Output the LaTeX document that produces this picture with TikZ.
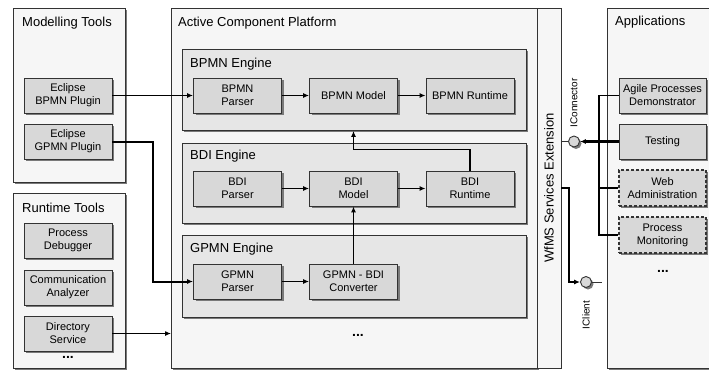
\documentclass[tikz,border=0pt]{standalone}
\usepackage{fontspec}
\setmainfont{Liberation Sans}
\usetikzlibrary{arrows.meta,shadows}
\definecolor{outerfill}{HTML}{F6F6F6}
\definecolor{engfill}{HTML}{E6E6E6}
\definecolor{boxfill}{HTML}{D8D8D8}
\definecolor{edge}{HTML}{333333}
\definecolor{shade}{HTML}{7A7A7A}
\tikzset{
  shad/.style={drop shadow={shadow xshift=2pt,shadow yshift=-2pt,fill=shade,opacity=1}},
  outerbox/.style={draw=edge,line width=0.9pt,fill=outerfill,shad,anchor=north west,inner sep=0pt},
  engbox/.style={draw=edge,line width=0.9pt,fill=engfill,shad,anchor=north west,inner sep=0pt},
  stripbox/.style={draw=edge,line width=0.9pt,fill=outerfill,anchor=north west,inner sep=0pt},
  comp/.style={draw=edge,line width=0.9pt,fill=boxfill,shad,minimum width=88pt,minimum height=35pt,
    align=center,font=\fontsize{11}{13}\selectfont,inner sep=1pt},
  dcomp/.style={comp,dashed,dash pattern=on 3pt off 2pt,line width=1.2pt},
  title/.style={anchor=base west,font=\fontsize{13}{15}\selectfont,inner sep=0pt},
  dots/.style={font=\fontsize{14}{14}\selectfont\bfseries,inner sep=0pt},
  arr/.style={-{Latex[length=6pt,width=5pt]},line width=1.1pt,draw=black},
  tarr/.style={arr,line width=2pt},
  iface/.style={circle,draw=edge,fill=boxfill,line width=0.9pt,minimum size=11pt,inner sep=0pt,shad},
  lbl/.style={rotate=90,font=\fontsize{10}{12}\selectfont,inner sep=0pt},
}
\begin{document}
\begin{tikzpicture}[x=1pt,y=-1pt]
\useasboundingbox (0,0) rectangle (709,370);
% outer containers
\node[outerbox,minimum width=112pt,minimum height=174pt] (mt) at (13,8) {};
\node[title] (mtt) at (22,26) {Modelling Tools};
\node[outerbox,minimum width=112pt,minimum height=175pt] (rt) at (13,193) {};
\node[title] (rtt) at (22,212) {Runtime Tools};
\node[outerbox,minimum width=366pt,minimum height=360pt] (acp) at (171,8) {};
\node[title] (acpt) at (178,26) {Active Component Platform};
\node[stripbox,minimum width=24pt,minimum height=360pt] (wfms) at (537,8) {};
\node[rotate=90,font=\fontsize{13}{15}\selectfont,inner sep=0pt] (wfmst) at (549,188) {WfMS Services Extension};
\node[outerbox,minimum width=108pt,minimum height=360pt] (apps) at (607,8) {};
\node[title] (appst) at (615,25) {Applications};
% engines
\node[engbox,minimum width=344pt,minimum height=81pt] (bpe) at (182,49) {};
\node[title] (bpet) at (190,67) {BPMN Engine};
\node[engbox,minimum width=344pt,minimum height=80pt] (bde) at (182,143) {};
\node[title] (bdet) at (190,159) {BDI Engine};
\node[engbox,minimum width=344pt,minimum height=82pt] (gpe) at (182,235) {};
\node[title] (gpet) at (190,252) {GPMN Engine};
% tools
\node[comp] (epl) at (68,95.5) {Eclipse\\BPMN Plugin};
\node[comp] (gpl) at (68,141.5) {Eclipse\\GPMN Plugin};
\node[comp] (pdb) at (68,240.5) {Process\\Debugger};
\node[comp] (cma) at (68,287.5) {Communication\\Analyzer};
\node[comp] (dsv) at (68,333.5) {Directory\\Service};
\node[dots] (rtdots) at (68,357) {...};
% engine components
\node[comp] (bpp) at (237.5,95.5) {BPMN\\Parser};
\node[comp] (bpm) at (353.5,95.5) {BPMN Model};
\node[comp] (bpr) at (470,95.5) {BPMN Runtime};
\node[comp] (bdp) at (237.5,188.5) {BDI\\Parser};
\node[comp] (bdm) at (353.5,188.5) {BDI\\Model};
\node[comp] (bdr) at (470,188.5) {BDI\\Runtime};
\node[comp] (gpp) at (237.5,281.5) {GPMN\\Parser};
\node[comp] (cnv) at (353.5,281.5) {GPMN - BDI\\Converter};
\node[dots] (acpdots) at (358,335) {...};
% applications
\node[comp,minimum width=87pt] (agl) at (662.5,95.5) {Agile Processes\\Demonstrator};
\node[comp,minimum width=87pt] (tst) at (662.5,141.5) {Testing};
\node[dcomp,minimum width=87pt,minimum height=36pt] (web) at (662.5,188) {Web\\Administration};
\node[dcomp,minimum width=87pt,minimum height=36pt] (mon) at (662.5,235) {Process\\Monitoring};
\node[dots] (appdots) at (663,271) {...};
% interfaces
\node[iface] (icon) at (574,141.5) {};
\node[lbl] (iconl) at (574,103) {IConnector};
\node[iface] (icl) at (586,282) {};
\node[lbl] (icll) at (586,315) {IClient};
% connectors
\draw[arr] (epl.east) -- (bpp.west);
\draw[tarr] (gpl.east) -- ++(41,0) |- (gpp.west);
\draw[arr] (dsv.east) -- (dsv.east -| acp.west);
\draw[arr] (bpp.east) -- (bpm.west);
\draw[arr] (bpm.east) -- (bpr.west);
\draw[arr] (bdp.east) -- (bdm.west);
\draw[arr] (bdm.east) -- (bdr.west);
\draw[arr] (gpp.east) -- (cnv.west);
\draw[arr] (cnv.north) -- (bdm.south);
\draw[arr] (bdr.north) -- ++(0,-21) -| (bpm.south |- bpe.south);
\draw[line width=0.9pt,draw=edge] (wfms.east |- icon) -- (icon.west);
\draw[tarr,line width=2.3pt] (tst.west) -- (icon.east);
\coordinate (bus) at (599,0);
\draw[line width=1.1pt] (agl.west) -| (bus |- mon.west) -- (mon.west);
\draw[line width=1.1pt] (web.west) -- (web.west -| bus);
\coordinate (clstart) at (561,188);
\coordinate (clbend) at (569,188);
\draw[tarr] (clstart) -- (clbend) |- (icl.west);
\coordinate (clstub) at (602,282);
\draw[line width=0.9pt,draw=edge] (icl.east) -- (clstub);
\end{tikzpicture}
\end{document}
